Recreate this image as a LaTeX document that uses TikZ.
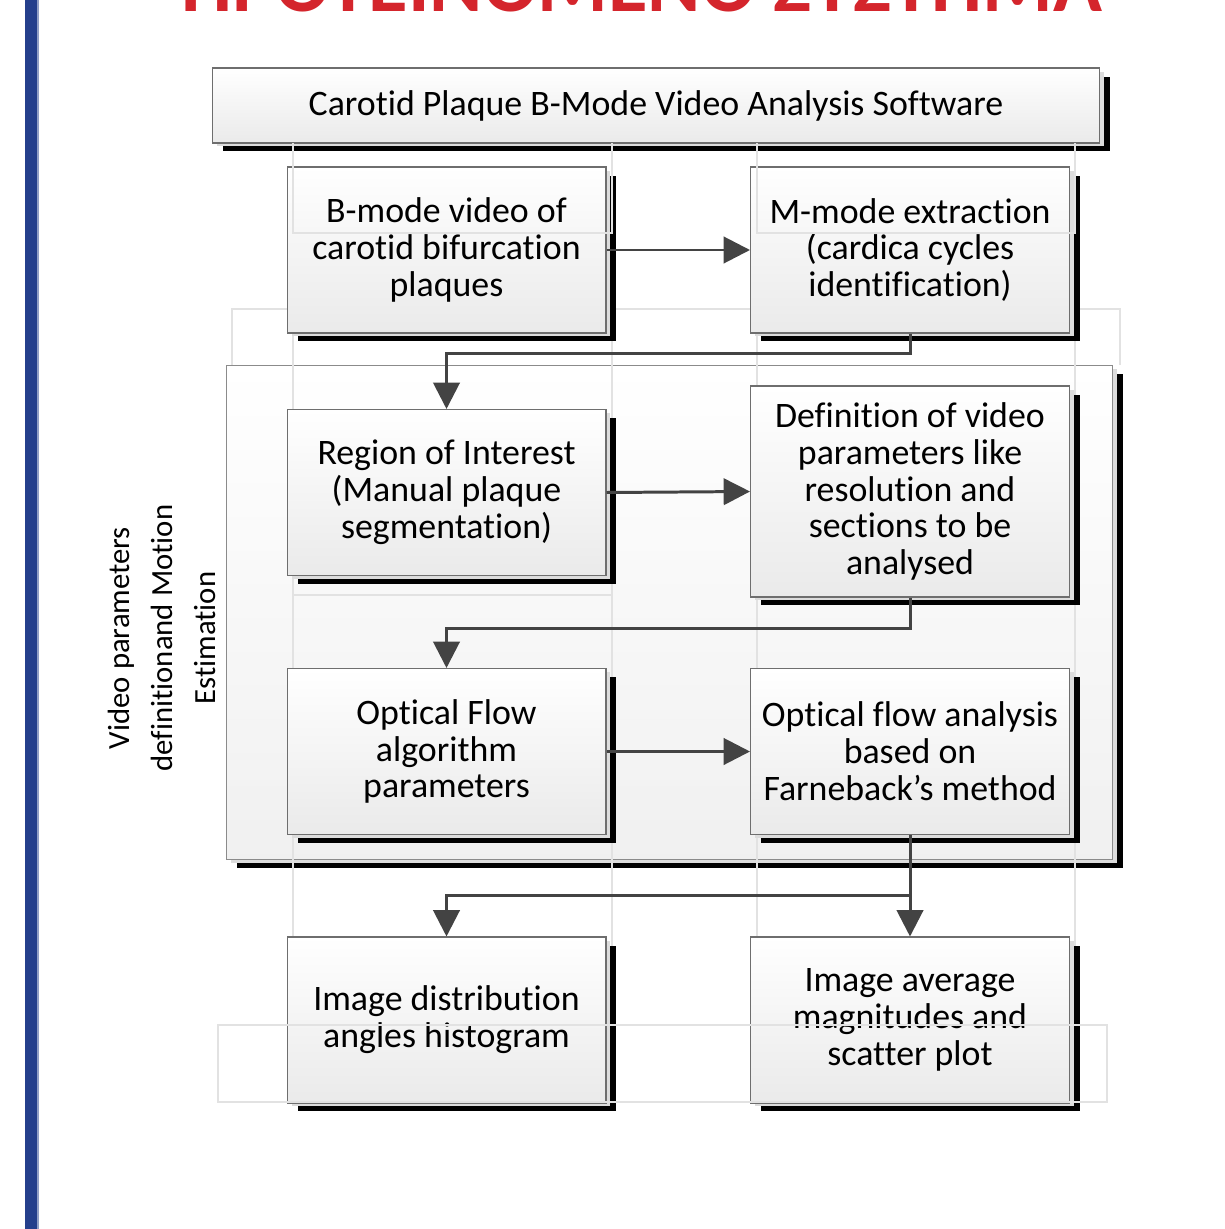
\documentclass[tikz,border=0pt]{standalone}
\usepackage{fontspec}
\setmainfont[Ligatures=NoCommon]{Carlito}
\usetikzlibrary{arrows.meta,calc,positioning,shadows}
\definecolor{barblue}{HTML}{253F8C}
\definecolor{titlered}{HTML}{D4252C}
\definecolor{arrowgray}{HTML}{434343}
\definecolor{boxedge}{HTML}{6E6E6E}
\definecolor{boxbottom}{HTML}{EAEAEA}
\definecolor{shadowgray}{HTML}{DCDCDC}
\definecolor{faintgray}{HTML}{E2E2E2}
\newcommand{\boxfont}{\fontsize{20.4pt}{21pt}\selectfont}
\newcommand{\sidefont}{\fontsize{17.5pt}{24.4pt}\selectfont}
\newcommand{\titlefont}{\fontsize{46pt}{50pt}\selectfont\bfseries}
\tikzset{
  flow/.style={arrowgray, -{Triangle[length=15pt,width=15pt]}, line width=1.7pt},
  faint/.style={faintgray, line width=1.2pt},
  boxshadow/.style={general shadow={fill=black, shadow xshift=0.21cm, shadow yshift=-0.17cm},
    general shadow={fill=shadowgray, shadow xshift=0.09cm, shadow yshift=-0.07cm}},
  stepbox/.style={draw=boxedge, line width=0.6pt, top color=white, bottom color=boxbottom, boxshadow,
    align=center, minimum width=6.38cm, minimum height=3.32cm, inner sep=0pt, font=\boxfont},
  headbox/.style={stepbox, minimum width=17.76cm, minimum height=1.5cm},
  groupbox/.style={draw=boxedge!80, line width=0.6pt, top color=white, bottom color=boxbottom!70, boxshadow,
    minimum width=17.74cm, minimum height=9.9cm, inner sep=0pt},
  sidelabel/.style={rotate=90, align=center, font=\sidefont}
}
\begin{document}
\begin{tikzpicture}[x=0.02cm, y=-0.02cm]
  \useasboundingbox (0,0) rectangle (1224,1229);
  \fill[barblue] (25,0) rectangle (37,1229);
  \fill[barblue!50!white] (37,0) rectangle (38.5,1229);
  \node[anchor=base, text=titlered, font=\titlefont] (title) at (642,12) {ΠΡΟΤΕΙΝΟΜΕΝΟ ΣΥΣΤΗΜΑ};

  \draw[faint] (232,365) -- (232,309) -- (1120,309) -- (1120,365);
  \node[groupbox] (estimation) at (669.5,612.5) {};
  \foreach \x in {293,612,757,1075}{
    \draw[faint] (\x,143) -- (\x,1025);
  }
  \draw[faint] (293,595) -- (612,595);

  \node[headbox] (software) at (656,105.5) {Carotid Plaque B-Mode Video Analysis Software};
  \node[stepbox] (bmode) at (446.5,250) {B-mode video of\\carotid bifurcation\\plaques};
  \node[stepbox] (mmode) at (910,250) {M-mode extraction\\(cardica cycles\\identification)};
  \node[stepbox] (roi) at (446.5,492.5) {Region of Interest\\(Manual plaque\\segmentation)};
  \node[stepbox, minimum height=4.22cm] (videoparams) at (910,491.5) {Definition of video\\parameters like\\resolution and\\sections to be\\analysed};
  \node[stepbox] (flowparams) at (446.5,751.5) {Optical Flow\\algorithm\\parameters};
  \node[stepbox] (farneback) at (910,751.5) {Optical flow analysis\\based on\\Farneback’s method};
  \node[stepbox] (histogram) at (446.5,1020) {Image distribution\\angles histogram};
  \node[stepbox] (scatter) at (910,1020) {Image average\\magnitudes and\\scatter plot};
  \node[sidelabel] (estlabel) at (162,638) {Video parameters\\definitionand Motion\\Estimation};

  \draw[faint] (293,143) -- (293,233) -- (612,233) -- (612,143);
  \draw[faint] (757,143) -- (757,233) -- (1075,233) -- (1075,143);
  \draw[faint] (218,1025) rectangle (1107,1102);

  \draw[flow] (bmode.east) -- (mmode.west);
  \draw[flow] (mmode.south) -- ++(0,20) -| (roi.north);
  \draw[flow] (roi.east) -- (videoparams.west);
  \draw[flow] (videoparams.south) -- ++(0,31) -| (flowparams.north);
  \draw[flow] (flowparams.east) -- (farneback.west);
  \coordinate (split) at ($(farneback.south)+(0,60)$);
  \draw[flow] (farneback.south) -- (scatter.north);
  \draw[flow] (split) -| (histogram.north);
\end{tikzpicture}
\end{document}
